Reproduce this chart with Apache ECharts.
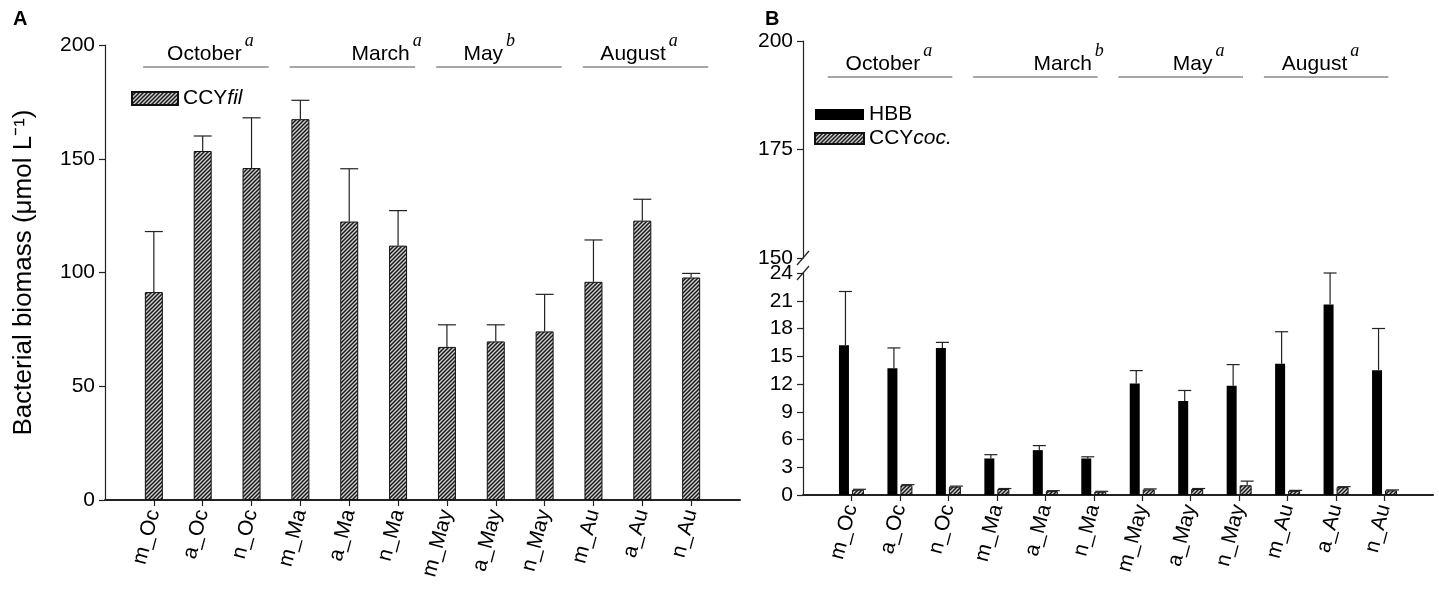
<!DOCTYPE html>
<html>
<head>
  <meta charset="utf-8">
  <title>Bacterial biomass</title>
  <script src="https://cdn.jsdelivr.net/npm/echarts@6/dist/echarts.min.js"></script>
</head>
<body style="margin:0">
  <div id="main" style="width:1439px;height:590px;"></div>
  <script type="text/javascript">
    // sample labels along the x axis
    var categories = ['m_Oc', 'a_Oc', 'n_Oc', 'm_Ma', 'a_Ma', 'n_Ma', 'm_May', 'a_May', 'n_May', 'm_Au', 'a_Au', 'n_Au'];

    // panel A: filamentous cyanobacteria (mean and top of error bar)
    var ccyFil = [91.4, 153.4, 145.9, 167.4, 122.4, 111.8, 67.3, 69.7, 74.1, 95.9, 122.8, 97.8];
    var ccyFilTop = [118, 160, 168, 175.7, 145.6, 127.2, 77, 77, 90.4, 114.3, 132.2, 99.6];

    // panel B: heterotrophic bacteria and coccoid cyanobacteria
    var hbb = [16.2, 13.7, 15.9, 3.95, 4.85, 3.95, 12.05, 10.15, 11.8, 14.2, 20.6, 13.5];
    var hbbTop = [22.0, 15.9, 16.5, 4.36, 5.34, 4.13, 13.45, 11.3, 14.1, 17.65, 24.0, 18.0];
    var ccyCoc = [0.57, 1.06, 0.9, 0.65, 0.42, 0.35, 0.6, 0.65, 1.05, 0.45, 0.85, 0.5];
    var ccyCocTop = [0.62, 1.12, 0.96, 0.7, 0.47, 0.4, 0.66, 0.7, 1.5, 0.5, 0.9, 0.55];

    // month groups: name, significance letter for each panel, first sample index
    var months = ['October', 'March', 'May', 'August'];
    var lettersA = ['a', 'a', 'b', 'a'];
    var lettersB = ['a', 'b', 'a', 'a'];
    var monthStart = [0, 3, 6, 9];

    var chart = echarts.init(document.getElementById('main'));

    // hatched fill for the cyanobacteria bars
    function hatch() {
      var c = document.createElement('canvas');
      c.width = 4; c.height = 4;
      var g = c.getContext('2d');
      g.fillStyle = '#d0d0d0';
      g.fillRect(0, 0, 4, 4);
      g.strokeStyle = '#1a1a1a';
      g.lineWidth = 1.5;
      g.beginPath();
      g.moveTo(0, 4); g.lineTo(4, 0);
      g.moveTo(-1, 1); g.lineTo(1, -1);
      g.moveTo(3, 5); g.lineTo(5, 3);
      g.stroke();
      return { image: c, repeat: 'repeat' };
    }
    var hatchFill = hatch();

    var font = 'Liberation Sans, Arial, sans-serif';
    var fs = 21;
    var idx = categories.map(function (c, i) { return i; });

    function pairs(vals) {
      return vals.map(function (v, i) { return [i, v]; });
    }
    function triples(vals, tops) {
      return vals.map(function (v, i) { return [i, v, tops[i]]; });
    }

    // upper error bar drawn from bar top
    function errBar(shift, half) {
      return function (params, api) {
        var lo = api.coord([api.value(0), api.value(1)]);
        var hi = api.coord([api.value(0), api.value(2)]);
        var x = lo[0] + shift;
        return {
          type: 'group',
          children: [
            { type: 'line', shape: { x1: x, y1: lo[1], x2: x, y2: hi[1] }, style: { stroke: '#222', lineWidth: 1.2 } },
            { type: 'line', shape: { x1: x - half, y1: hi[1], x2: x + half, y2: hi[1] }, style: { stroke: '#222', lineWidth: 1.2 } }
          ]
        };
      };
    }

    // month header: grey line over the group and the name with its letter
    function header(letters, shift, yLine, textEnd) {
      return function (params, api) {
        var i = params.dataIndex;
        var s = monthStart[i];
        var p1 = api.coord([s + shift, yLine]);
        var p2 = api.coord([s + shift + 2.57, yLine]);
        var pt = api.coord([s + textEnd[i], yLine]);
        return {
          type: 'group',
          children: [
            { type: 'line', shape: { x1: p1[0], y1: p1[1], x2: p2[0], y2: p2[1] }, style: { stroke: '#8a8a8a', lineWidth: 1.5 } },
            { type: 'text', x: pt[0], y: p1[1] - 13, style: { text: months[i], font: fs + 'px ' + font, fill: '#000', align: 'right', verticalAlign: 'middle' } },
            { type: 'text', x: pt[0] + 3, y: p1[1] - 26, style: { text: letters[i], font: 'italic 18px Liberation Serif, Times New Roman, serif', fill: '#000', align: 'left', verticalAlign: 'middle' } }
          ]
        };
      };
    }

    function catAxis(grid, show) {
      return {
        type: 'value', gridIndex: grid, min: -1, max: 12, interval: 1, show: show,
        splitLine: { show: false },
        axisLine: { show: true, onZero: false, lineStyle: { color: '#222', width: 2 } },
        axisTick: { show: true, length: 6, customValues: idx, lineStyle: { color: '#222', width: 1.2 } },
        axisLabel: {
          customValues: idx, rotate: 75, margin: 10, color: '#000', fontSize: fs, fontFamily: font,
          formatter: function (v) { return categories[v] || ''; }
        }
      };
    }

    function valAxis(grid, min, max, interval) {
      return {
        type: 'value', gridIndex: grid, min: min, max: max, interval: interval,
        splitLine: { show: false },
        axisLine: { show: true, onZero: false, lineStyle: { color: '#222', width: 1.2 } },
        axisTick: { show: true, length: 6, lineStyle: { color: '#222', width: 1.2 } },
        axisLabel: { color: '#000', fontSize: fs, fontFamily: font, margin: 10 }
      };
    }

    var legendRich = {
      n: { fontSize: fs, fontFamily: font, color: '#000' },
      i: { fontSize: fs, fontFamily: font, color: '#000', fontStyle: 'italic' }
    };
    function legendFmt(name) {
      if (name === 'CCYfil') return '{n|CCY}{i|fil}';
      if (name === 'CCYcoc.') return '{n|CCY}{i|coc.}';
      return '{n|' + name + '}';
    }

    var yA = valAxis(0, 0, 200, 50);
    yA.name = 'Bacterial biomass (μmol L⁻¹)';
    yA.nameLocation = 'middle';
    yA.nameGap = 68;
    yA.nameTextStyle = { fontSize: 26, fontFamily: font, color: '#000' };

    var option = {
      animation: false,
      backgroundColor: '#fff',
      title: [
        { text: 'A', left: 8, top: 4, textStyle: { fontSize: 20, fontWeight: 'bold', fontFamily: font, color: '#000' } },
        { text: 'B', left: 760, top: 4, textStyle: { fontSize: 20, fontWeight: 'bold', fontFamily: font, color: '#000' } }
      ],
      legend: [
        {
          data: ['CCYfil'], left: 126, top: 83, icon: 'rect', itemWidth: 46, itemHeight: 13, itemGap: 8,
          formatter: legendFmt, textStyle: { rich: legendRich }
        },
        {
          data: ['HBB', 'CCYcoc.'], left: 809, top: 99, orient: 'vertical', icon: 'rect',
          itemWidth: 49, itemHeight: 11, itemGap: 3,
          formatter: legendFmt, textStyle: { rich: legendRich }
        }
      ],
      grid: [
        { left: 105, right: 699, top: 45, bottom: 90, outerBoundsMode: 'none' },
        { left: 803, right: 6, top: 273, bottom: 95, outerBoundsMode: 'none' },
        { left: 803, right: 6, top: 41, bottom: 332, outerBoundsMode: 'none' }
      ],
      xAxis: [catAxis(0, true), catAxis(1, true), catAxis(2, false)],
      yAxis: [yA, valAxis(1, 0, 24, 3), valAxis(2, 150, 200, 25)],
      series: [
        {
          name: 'CCYfil', type: 'bar', xAxisIndex: 0, yAxisIndex: 0, barWidth: 18,
          itemStyle: { color: hatchFill, borderColor: '#111', borderWidth: 1 },
          data: pairs(ccyFil)
        },
        {
          type: 'custom', xAxisIndex: 0, yAxisIndex: 0, z: 3,
          renderItem: errBar(0, 9), data: triples(ccyFil, ccyFilTop)
        },
        {
          name: 'HBB', type: 'bar', xAxisIndex: 1, yAxisIndex: 1, barWidth: 10, barGap: '30%',
          itemStyle: { color: '#000', borderColor: '#000', borderWidth: 0 },
          data: pairs(hbb)
        },
        {
          name: 'CCYcoc.', type: 'bar', xAxisIndex: 1, yAxisIndex: 1, barWidth: 12, barGap: '30%',
          itemStyle: { color: hatchFill, borderColor: '#111', borderWidth: 1 },
          data: pairs(ccyCoc)
        },
        {
          type: 'custom', xAxisIndex: 1, yAxisIndex: 1, z: 3,
          renderItem: errBar(-6, 6.5), data: triples(hbb, hbbTop)
        },
        {
          type: 'custom', xAxisIndex: 1, yAxisIndex: 1, z: 3,
          renderItem: errBar(8, 6.5), data: triples(ccyCoc, ccyCocTop)
        },
        {
          type: 'custom', xAxisIndex: 0, yAxisIndex: 0, silent: true,
          renderItem: header(lettersA, -0.22, 190.3, [1.8, 2.24, 1.15, 1.48]),
          data: months.map(function (m, i) { return [i]; })
        },
        {
          type: 'custom', xAxisIndex: 2, yAxisIndex: 2, silent: true,
          renderItem: header(lettersB, -0.49, 191.7, [1.42, 1.96, 1.45, 1.23]),
          data: months.map(function (m, i) { return [i]; })
        }
      ]
    };

    chart.setOption(option);

    // break marks on the split y axis of panel B
    var pTop = chart.convertToPixel({ xAxisIndex: 2, yAxisIndex: 2 }, [-1, 150]);
    var pBot = chart.convertToPixel({ xAxisIndex: 1, yAxisIndex: 1 }, [-1, 24]);
    function slash(p) {
      return { type: 'line', shape: { x1: p[0] - 6, y1: p[1] + 7, x2: p[0] + 6, y2: p[1] - 7 }, style: { stroke: '#222', lineWidth: 1.2 } };
    }
    chart.setOption({ graphic: [slash(pTop), slash(pBot)] });
  </script>
</body>
</html>
